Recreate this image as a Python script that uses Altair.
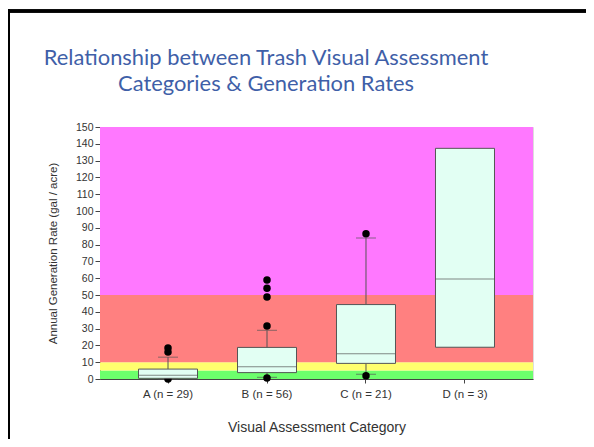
import altair as alt
import pandas as pd

# ---- data ----
categories = ["A (n = 29)", "B (n = 56)", "C (n = 21)", "D (n = 3)"]
q1 = [0.4, 3.8, 9.3, 18.9]
median = [2.3, 7.3, 15.0, 59.5]
q3 = [5.9, 18.8, 44.3, 137.3]

whisker_cats = ["A (n = 29)", "B (n = 56)", "C (n = 21)"]
whisker_lo = [0.0, 1.0, 2.8]
whisker_hi = [13.0, 29.0, 84.0]

outlier_cats = ["A (n = 29)", "A (n = 29)", "A (n = 29)",
                "B (n = 56)", "B (n = 56)", "B (n = 56)", "B (n = 56)", "B (n = 56)",
                "C (n = 21)", "C (n = 21)"]
outlier_vals = [0.0, 16.0, 18.5,
                0.6, 31.5, 48.8, 54.0, 58.9,
                2.0, 86.5]

band_lo = [0, 5, 10, 50]
band_hi = [5, 10, 50, 150]
band_color = ["#6CFF6C", "#FFFF6E", "#FF8080", "#FF78FF"]

y_ticks = list(range(0, 151, 10))

title_lines = ["Relationship between Trash Visual Assessment",
               "Categories & Generation Rates"]
x_title = "Visual Assessment Category"
y_title = "Annual Generation Rate (gal / acre)"

# ---- tables ----
boxes = pd.DataFrame({"cat": categories, "q1": q1, "median": median, "q3": q3})
whisk = pd.DataFrame({"cat": whisker_cats, "lo": whisker_lo, "hi": whisker_hi})
outl = pd.DataFrame({"cat": outlier_cats, "v": outlier_vals})
bands = pd.DataFrame({"lo": band_lo, "hi": band_hi, "c": band_color})
titles = pd.DataFrame({"t": title_lines})

W, H = 433, 252
xsc = alt.Scale(domain=categories, paddingInner=0, paddingOuter=0.187)
ysc = alt.Scale(domain=[0, 150], nice=False)

xaxis = alt.Axis(title=x_title, labelAngle=0, tickSize=4, labelPadding=5,
                 titlePadding=21, labelFontSize=11.5, titleFontSize=14,
                 labelFont="Liberation Sans", titleFont="Liberation Sans",
                 titleFontWeight="normal", labelColor="#333", titleColor="#333",
                 domainColor="#444", tickColor="#444")
yaxis = alt.Axis(title=y_title, values=y_ticks, tickSize=5, labelPadding=2,
                 titlePadding=17, labelFontSize=10.5, titleFontSize=11.5,
                 labelFont="Liberation Sans", titleFont="Liberation Sans",
                 titleFontWeight="normal", labelColor="#333", titleColor="#333",
                 domainColor="#444", tickColor="#444", grid=False)


def X():
    return alt.X("cat:N", scale=xsc, sort=categories, axis=xaxis)


def Y(field):
    return alt.Y(field, scale=ysc, axis=yaxis)


bg = alt.Chart(bands).mark_rect().encode(
    y=Y("lo:Q"),
    y2="hi:Q",
    color=alt.Color("c:N", scale=None),
)

rules_lo = alt.Chart(whisk).mark_rule(color="#555", strokeWidth=1).transform_lookup(
    lookup="cat", from_=alt.LookupData(boxes, "cat", ["q1", "q3"])
).encode(x=X(), y=Y("lo:Q"), y2=alt.Y2("q1:Q"))

rules_hi = alt.Chart(whisk).mark_rule(color="#555", strokeWidth=1).transform_lookup(
    lookup="cat", from_=alt.LookupData(boxes, "cat", ["q1", "q3"])
).encode(x=X(), y=Y("q3:Q"), y2=alt.Y2("hi:Q"))

caps_lo = alt.Chart(whisk).mark_tick(color="#555", size=20, thickness=1).encode(
    x=X(), y=Y("lo:Q"))
caps_hi = alt.Chart(whisk).mark_tick(color="#555", size=20, thickness=1).encode(
    x=X(), y=Y("hi:Q"))

dots = alt.Chart(outl).mark_circle(color="black", opacity=1, size=56).encode(
    x=X(), y=Y("v:Q"))

box = alt.Chart(boxes).mark_bar(size=59, color="#E2FFF3", stroke="#555",
                                strokeWidth=1).encode(
    x=X(), y=Y("q1:Q"), y2="q3:Q")

med = alt.Chart(boxes).mark_tick(color="#555", size=59, thickness=1).encode(
    x=X(), y=Y("median:Q"))

# slide title as text
title1 = alt.Chart(titles.iloc[[0]]).mark_text(
    font="Lato", fontSize=21.9, color="#3F5FA8", align="center", baseline="alphabetic"
).encode(text="t:N", x=alt.value(166), y=alt.value(-62))
title2 = alt.Chart(titles.iloc[[1]]).mark_text(
    font="Lato", fontSize=21.9, color="#3F5FA8", align="center", baseline="alphabetic"
).encode(text="t:N", x=alt.value(166), y=alt.value(-36))

# slide frame lines
frame_top = alt.Chart(boxes).mark_rule(color="black", strokeWidth=3).encode(
    x=alt.value(-93), x2=alt.value(486), y=alt.value(-116))
frame_left = alt.Chart(boxes).mark_rule(color="black", strokeWidth=3).encode(
    x=alt.value(-91.5), y=alt.value(-117.5), y2=alt.value(312))

chart = alt.layer(
    bg, rules_lo, rules_hi, caps_lo, caps_hi, dots, box, med,
    title1, title2, frame_top, frame_left
).properties(
    width=W, height=H,
    autosize=alt.AutoSizeParams(type="none"),
    padding={"left": 92, "top": 119, "right": 53, "bottom": 60},
).configure_view(stroke="#444", strokeWidth=1
).configure(background="white")

chart.save("out.html", embed_options={"renderer": "svg", "actions": False})
